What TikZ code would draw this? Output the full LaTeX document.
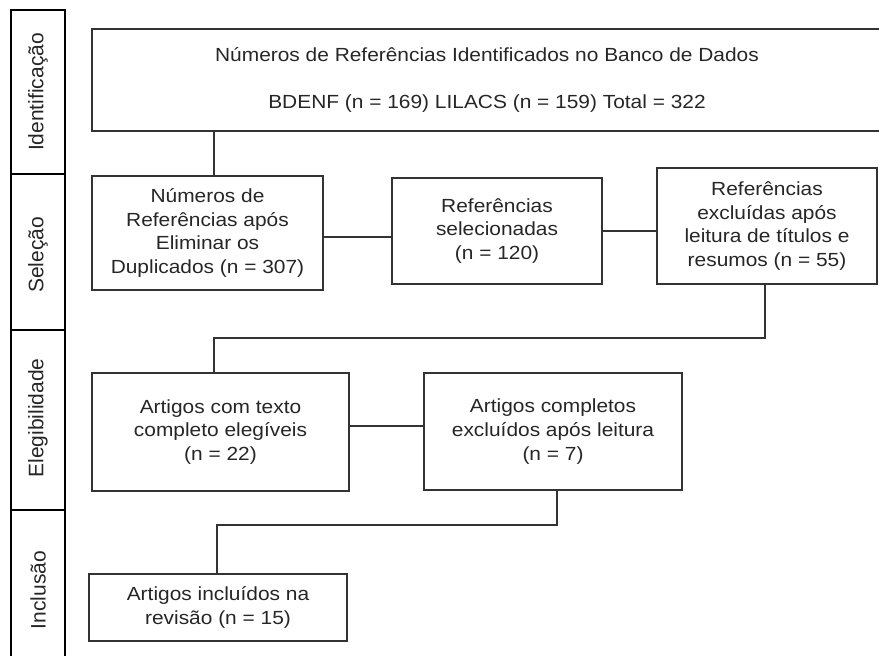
\documentclass[tikz,border=0pt]{standalone}
\usepackage{fontspec}
\setmainfont{Liberation Sans}[FakeStretch=1.1]
\newfontfamily\phasefont{Liberation Sans}
\begin{document}
\begin{tikzpicture}[x=1pt,y=-1pt,
  box/.style={draw=black!80, line width=1.1pt, rectangle, inner sep=0pt, align=center, text=black!85, font=\fontsize{19}{23.7}\selectfont},
  conn/.style={draw=black!80, line width=1.1pt},
  strip/.style={draw=black, line width=2pt},
  phase/.style={rotate=90, text=black!85, font=\phasefont\fontsize{21}{24}\selectfont}]
\useasboundingbox (0,0) rectangle (879,656);
\begin{scope}
\clip (0,0) rectangle (879,656);
% left strip
\draw[strip] (11,660) -- (11,10) -- (65,10) -- (65,660);
\draw[strip] (11,174) -- (65,174);
\draw[strip] (11,330) -- (65,330);
\draw[strip] (11,510) -- (65,510);
\node[phase] (l1) at (38,92) {Identificação};
\node[phase] (l2) at (38,255) {Seleção};
\node[phase] (l3) at (38,418) {Elegibilidade};
\node[phase] (l4) at (38,590) {Inclusão};
% boxes
\node[box, minimum width=790, minimum height=102, font=\fontsize{19}{47}\selectfont] (b1) at (487,80)
  {Números de Referências Identificados no Banco de Dados\\BDENF (n = 169) LILACS (n = 159) Total = 322};
\node[box, minimum width=231, minimum height=114] (b2) at (207.5,233)
  {Números de\\Referências após\\Eliminar os\\Duplicados (n = 307)};
\node[box, minimum width=210, minimum height=106] (b3) at (497,231)
  {Referências\\selecionadas\\(n = 120)};
\node[box, minimum width=220, minimum height=116] (b4) at (767,226)
  {Referências\\excluídas após\\leitura de títulos e\\resumos (n = 55)};
\node[box, minimum width=257, minimum height=118] (b5) at (220.5,432)
  {Artigos com texto\\completo elegíveis\\(n = 22)};
\node[box, minimum width=258, minimum height=117] (b6) at (553,431.5)
  {Artigos completos\\excluídos após leitura\\(n = 7)};
\node[box, minimum width=258, minimum height=67] (b7) at (218,607.5)
  {Artigos incluídos na\\revisão (n = 15)};
% helper coordinates
\coordinate (k1) at (214,0);
\coordinate (k2) at (765,338);
\coordinate (k3) at (0,237);
\coordinate (k4) at (0,426);
\coordinate (k5) at (557,525);
\coordinate (k6) at (217,0);
% connectors
\draw[conn] (k1 |- b1.south) -- (k1 |- b2.north);
\draw[conn] (b2.east |- k3) -- (b3.west |- k3);
\draw[conn] (b3.east) -- (b3.east -| b4.west);
\draw[conn] (k2 |- b4.south) -- (k2) -| (k1 |- b5.north);
\draw[conn] (b5.east |- k4) -- (b6.west |- k4);
\draw[conn] (k5 |- b6.south) -- (k5) -| (k6 |- b7.north);
\end{scope}
\end{tikzpicture}
\end{document}
